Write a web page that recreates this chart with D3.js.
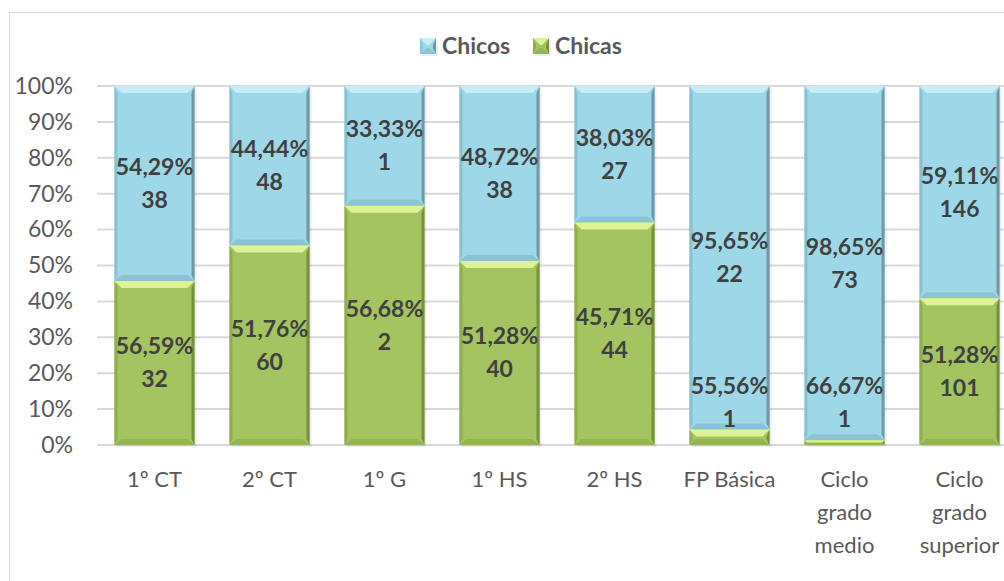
<!DOCTYPE html>
<html>
<head>
<meta charset="utf-8">
<script src="https://cdn.jsdelivr.net/npm/d3@7"></script>
<style>
  body { margin: 0; background: #fff; }
  svg text { font-family: Lato, "Noto Sans", sans-serif; }
</style>
</head>
<body>
<div id="chart"></div>
<script>
const categories = ["1º CT", "2º CT", "1º G", "1º HS", "2º HS", "FP Básica", "Ciclo grado medio", "Ciclo grado superior"];
const chicos = [38, 48, 1, 38, 27, 22, 73, 146];
const chicas = [32, 60, 2, 40, 44, 1, 1, 101];
const chicosPct = ["54,29%", "44,44%", "33,33%", "48,72%", "38,03%", "95,65%", "98,65%", "59,11%"];
const chicasPct = ["56,59%", "51,76%", "56,68%", "51,28%", "45,71%", "55,56%", "66,67%", "51,28%"];
const yTicks = [0, 0.1, 0.2, 0.3, 0.4, 0.5, 0.6, 0.7, 0.8, 0.9, 1];

const width = 1004,
  height = 581;

const svg = d3.select("#chart").append("svg")
  .attr("width", width)
  .attr("height", height);

// chart frame
svg.append("rect")
  .attr("x", 9.5).attr("y", 12.5)
  .attr("width", 1010).attr("height", 600)
  .attr("fill", "#fff")
  .attr("stroke", "#d9d9d9");

const x = d3.scaleBand()
  .domain(categories)
  .range([97, 97 + 115 * categories.length])
  .paddingInner(0.304)
  .paddingOuter(0.152);

const y = d3.scaleLinear().domain([0, 1]).range([445, 86]);

// grid
svg.append("g")
  .selectAll("line")
  .data(yTicks)
  .join("line")
  .attr("x1", 97).attr("x2", width)
  .attr("y1", d => y(d)).attr("y2", d => y(d))
  .attr("stroke", "#d9d9d9")
  .attr("stroke-width", 2);

// y axis labels
const yAxis = d3.axisLeft(y).tickValues(yTicks).tickFormat(d3.format(".0%")).tickSize(0).tickPadding(0);
svg.append("g")
  .attr("transform", "translate(73,0)")
  .call(yAxis)
  .call(g => g.select(".domain").remove())
  .selectAll("text")
  .attr("font-size", 23)
  .attr("fill", "#595959")
  .style("font-family", "Lato, sans-serif");

const palette = {
  chicos: { base: "#9ed8e8", top: "#c6eef8", left: "#88c2d2", right: "#6f98a4", bottom: "#8cc3d3" },
  chicas: { base: "#a3c460", top: "#dcf497", left: "#8fae50", right: "#76903f", bottom: "#93b355" }
};

function bevelBar(g, x0, y0, w, h, c) {
  const t = Math.min(7, h / 2), bb = Math.min(6, h / 2), s = 3;
  g.append("rect").attr("x", x0 + 2).attr("y", y0 + 2).attr("width", w).attr("height", h)
    .attr("fill", "#000").attr("opacity", 0.07);
  g.append("rect").attr("x", x0).attr("y", y0).attr("width", w).attr("height", h).attr("fill", c.base);
  if (h <= 0) return;
  g.append("polygon").attr("fill", c.left)
    .attr("points", [[x0, y0], [x0 + s, y0 + t], [x0 + s, y0 + h - bb], [x0, y0 + h]].join(" "));
  g.append("polygon").attr("fill", c.right)
    .attr("points", [[x0 + w, y0], [x0 + w - s, y0 + t], [x0 + w - s, y0 + h - bb], [x0 + w, y0 + h]].join(" "));
  g.append("polygon").attr("fill", c.bottom)
    .attr("points", [[x0, y0 + h], [x0 + t, y0 + h - bb], [x0 + w - t, y0 + h - bb], [x0 + w, y0 + h]].join(" "));
  g.append("polygon").attr("fill", c.top)
    .attr("points", [[x0, y0], [x0 + w, y0], [x0 + w - t, y0 + t], [x0 + t, y0 + t]].join(" "));
}

const rows = categories.map((c, i) => {
  const total = chicos[i] + chicas[i];
  return { cat: c, f: chicas[i] / total, i };
});

const bars = svg.append("g");
rows.forEach(r => {
  const x0 = x(r.cat), w = x.bandwidth();
  bevelBar(bars, x0, y(1), w, y(r.f) - y(1), palette.chicos);
  bevelBar(bars, x0, y(r.f), w, y(0) - y(r.f), palette.chicas);
});

// data labels
const labels = svg.append("g")
  .attr("font-weight", "bold")
  .attr("font-size", 23)
  .attr("fill", "#404040")
  .attr("text-anchor", "middle");

function addLabel(cx, cy, pct, n) {
  const t = labels.append("text").attr("x", cx).attr("y", cy);
  t.append("tspan").attr("x", cx).attr("dy", -8.5).text(pct);
  t.append("tspan").attr("x", cx).attr("dy", 33).text(n);
}

rows.forEach(r => {
  const cx = x(r.cat) + x.bandwidth() / 2;
  const cBlue = (y(1) + y(r.f)) / 2;
  const cGreen = Math.min((y(r.f) + y(0)) / 2, y(0) - 43);
  addLabel(cx, cBlue, chicosPct[r.i], chicos[r.i]);
  addLabel(cx, cGreen, chicasPct[r.i], chicas[r.i]);
});

// x axis labels
const xAxis = d3.axisBottom(x).tickSize(0).tickPadding(0);
const xg = svg.append("g")
  .attr("transform", "translate(0,471)")
  .call(xAxis);
xg.select(".domain").remove();
xg.selectAll("text")
  .attr("font-size", 22)
  .attr("fill", "#595959")
  .style("font-family", "Lato, sans-serif")
  .each(function (d) {
    const t = d3.select(this);
    if (this.getComputedTextLength() > x.step() - 10) {
      const words = d.split(" ");
      t.text(null);
      words.forEach((w, k) => {
        t.append("tspan").attr("x", 0).attr("dy", k === 0 ? "0.71em" : 33).text(w);
      });
    }
  });

// legend
const legend = svg.append("g").attr("font-weight", "bold").attr("font-size", 23).attr("fill", "#595959");
const legendItems = [
  { name: "Chicos", c: palette.chicos, x: 420 },
  { name: "Chicas", c: palette.chicas, x: 533 }
];
legendItems.forEach(it => {
  const g = legend.append("g");
  bevelBar(g, it.x, 38, 16, 16, it.c);
  g.append("text").attr("x", it.x + 22).attr("y", 54).text(it.name);
});
</script>
</body>
</html>
